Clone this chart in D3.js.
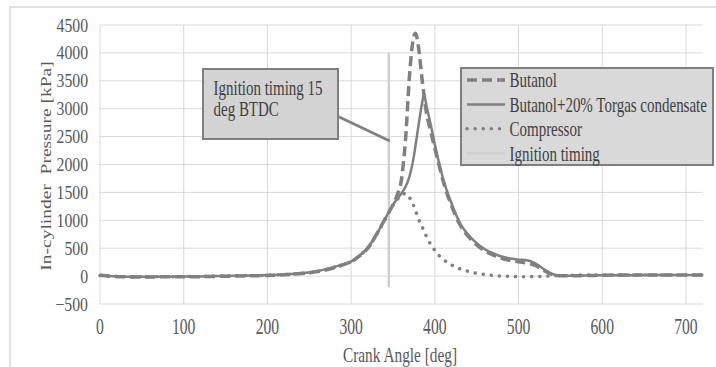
<!DOCTYPE html>
<html>
<head>
<meta charset="utf-8">
<script src="https://cdn.jsdelivr.net/npm/d3@7"></script>
<style>
  body { margin: 0; background: #fff; }
  svg { display: block; }
  text { font-family: "Liberation Serif", "Times New Roman", "DejaVu Serif", serif; }
</style>
</head>
<body>
<svg id="chart" width="716" height="367"></svg>
<script>
// crank angle [deg] shared by the three pressure traces
const crankAngle = [0, 20, 40, 60, 80, 100, 120, 140, 160, 180, 200, 220, 240, 260, 280,
    290, 300, 310, 320, 330, 340, 345, 350, 355, 360, 365, 370, 375,
    377, 380, 385, 387, 390, 395, 400, 405, 410,
    420, 430, 440, 450, 460, 470, 480, 490, 500, 510, 520, 530, 540, 550, 560,
    580, 600, 620, 640, 660, 680, 700, 720];

// in-cylinder pressure [kPa]
const butanol = [15, -10, -15, -15, -12, -12, -10, -5, 0, 5, 12, 25, 45, 80, 150,
    200, 258, 360, 500, 740, 1010, 1140, 1280, 1450, 1720, 2450, 3650, 4300,
    4350, 4150, 3500, 3250, 2930, 2600, 2290, 1990, 1700,
    1260, 920, 710, 560, 450, 375, 320, 280, 255, 235, 190, 100, 30, 5, 5,
    10, 15, 20, 20, 20, 20, 20, 20];

const torgas = [20, -5, -10, -10, -10, -8, -5, 0, 5, 10, 18, 30, 50, 90, 165,
    210, 262, 370, 510, 740, 1010, 1150, 1280, 1380, 1480, 1600, 1800, 2150,
    2350, 2650, 3120, 3260, 3050, 2720, 2360, 2030, 1740,
    1300, 950, 740, 590, 480, 405, 350, 315, 295, 285, 230, 125, 40, 10, 5,
    10, 15, 15, 15, 20, 20, 20, 20];

const compressor = [10, -5, -10, -10, -10, -8, -5, 0, 5, 10, 15, 28, 48, 85, 160,
    205, 258, 365, 505, 730, 1000, 1140, 1270, 1370, 1450, 1480, 1400, 1250,
    1170, 1040, 880, 810, 710, 570, 460, 370, 300,
    200, 130, 85, 50, 30, 12, 0, -5, -10, -10, -8, -3, 5, 10, 15,
    20, 20, 20, 20, 20, 20, 20, 20];

// ignition timing marker (15 deg BTDC)
const ignitionAngle = [345, 345];
const ignitionPressure = [4000, -200];

const xTicks = [0, 100, 200, 300, 400, 500, 600, 700];
const yTicks = [-500, 0, 500, 1000, 1500, 2000, 2500, 3000, 3500, 4000, 4500];

const legendLabels = ['Butanol', 'Butanol+20% Torgas condensate', 'Compressor', 'Ignition timing'];
const noteLines = ['Ignition timing 15', 'deg BTDC'];

const svg = d3.select('#chart');
const font = '"Liberation Serif", "Times New Roman", "DejaVu Serif", serif';
const lineColor = '#808080';

// outer chart border (cropped on right / bottom)
svg.append('rect')
    .attr('x', 10).attr('y', 7)
    .attr('width', 720).attr('height', 380)
    .attr('fill', '#fff')
    .attr('stroke', '#d9d9d9')
    .attr('stroke-width', 1.5);

const x = d3.scaleLinear().domain([0, 720]).range([100, 702.7]);
const y = d3.scaleLinear().domain([-500, 4500]).range([304, 25]);

// gridlines
svg.append('g')
    .selectAll('line')
    .data(yTicks)
    .enter().append('line')
    .attr('x1', x(0)).attr('x2', x(720))
    .attr('y1', d => y(d)).attr('y2', d => y(d))
    .attr('stroke', '#d9d9d9').attr('stroke-width', 1);

svg.append('g')
    .selectAll('line')
    .data(xTicks)
    .enter().append('line')
    .attr('x1', d => x(d)).attr('x2', d => x(d))
    .attr('y1', y(4500)).attr('y2', y(-500))
    .attr('stroke', '#d9d9d9').attr('stroke-width', 1);

// y tick labels (text looks horizontally squeezed in the source)
const yAxis = svg.append('g')
    .attr('transform', `translate(${x(0)},0)`)
    .call(d3.axisLeft(y).tickValues(yTicks).tickFormat(d3.format('d')).tickSize(0).tickPadding(12));
yAxis.select('.domain').remove();
yAxis.selectAll('text')
    .attr('font-family', font)
    .attr('font-size', 19)
    .attr('fill', '#595959')
    .each(function() {
        const t = d3.select(this);
        t.attr('x', +t.attr('x') / 0.83).attr('transform', 'scale(0.83,1)');
    });

const xAxis = svg.append('g')
    .attr('transform', `translate(0,${y(-500)})`)
    .call(d3.axisBottom(x).tickValues(xTicks).tickFormat(d3.format('d')).tickSize(0).tickPadding(14));
xAxis.select('.domain').remove();
xAxis.selectAll('.tick').each(function(d) {
    d3.select(this).attr('transform', `translate(${x(d)},0) scale(0.68,1)`);
});
xAxis.selectAll('text')
    .attr('font-family', font)
    .attr('font-size', 23)
    .attr('fill', '#595959');

// axis titles
svg.append('g')
    .attr('transform', 'translate(400,362) scale(0.73,1)')
    .append('text')
    .attr('text-anchor', 'middle')
    .attr('font-family', font)
    .attr('font-size', 21)
    .attr('fill', '#595959')
    .text('Crank Angle [deg]');

svg.append('g')
    .attr('transform', 'translate(51,166) rotate(-90) scale(1,0.8)')
    .append('text')
    .attr('text-anchor', 'middle')
    .attr('font-family', font)
    .attr('font-size', 19.5)
    .style('white-space', 'pre')
    .attr('fill', '#595959')
    .text('In-cylinder  Pressure [kPa]');

// series
const styles = [
    {width: 3.5, dash: '10,5', cap: 'butt'},
    {width: 2.5, dash: null, cap: 'butt'},
    {width: 3.5, dash: '0.1,8', cap: 'round'},
    {width: 2.5, dash: null, cap: 'butt', color: '#cfcfcf'}
];

const line = d3.line()
    .x(d => x(d[0]))
    .y(d => y(d[1]))
    .curve(d3.curveMonotoneX);

const ignitionData = ignitionAngle.map((a, i) => [a, ignitionPressure[i]]);
svg.append('path')
    .datum(ignitionData)
    .attr('fill', 'none')
    .attr('stroke', styles[3].color)
    .attr('stroke-width', styles[3].width)
    .attr('d', d3.line().x(d => x(d[0])).y(d => y(d[1])));

[butanol, torgas, compressor].forEach((series, i) => {
    const s = styles[i];
    svg.append('path')
        .datum(crankAngle.map((a, j) => [a, series[j]]))
        .attr('fill', 'none')
        .attr('stroke', lineColor)
        .attr('stroke-width', s.width)
        .attr('stroke-dasharray', s.dash)
        .attr('stroke-linecap', s.cap)
        .attr('stroke-linejoin', 'round')
        .attr('d', line);
});

// annotation callout
svg.append('line')
    .attr('x1', 335).attr('y1', 115)
    .attr('x2', x(ignitionAngle[0]) + 1).attr('y2', 141)
    .attr('stroke', '#7f7f7f').attr('stroke-width', 2.5);

svg.append('rect')
    .attr('x', 203).attr('y', 69)
    .attr('width', 135).attr('height', 70)
    .attr('fill', '#d3d3d3')
    .attr('stroke', '#7f7f7f').attr('stroke-width', 2);

noteLines.forEach((t, i) => {
    svg.append('g')
        .attr('transform', `translate(213.5,${95 + i * 21}) scale(0.75,1)`)
        .append('text')
        .attr('font-family', font)
        .attr('font-size', 20)
        .attr('fill', '#404040')
        .text(t);
});

// legend
const legend = svg.append('g');
legend.append('rect')
    .attr('x', 461).attr('y', 68)
    .attr('width', 252).attr('height', 97)
    .attr('fill', '#d9d9d9')
    .attr('stroke', '#7f7f7f').attr('stroke-width', 2);

legendLabels.forEach((label, i) => {
    const s = styles[i];
    const cy = 80 + i * 24.4;
    legend.append('line')
        .attr('x1', 467).attr('x2', 505)
        .attr('y1', cy).attr('y2', cy)
        .attr('stroke', s.color || lineColor)
        .attr('stroke-width', s.width)
        .attr('stroke-dasharray', s.dash)
        .attr('stroke-linecap', s.cap);
    legend.append('g')
        .attr('transform', `translate(509.5,${cy + 7.3}) scale(0.75,1)`)
        .append('text')
        .attr('font-family', font)
        .attr('font-size', 20)
        .attr('fill', '#404040')
        .text(label);
});
</script>
</body>
</html>
